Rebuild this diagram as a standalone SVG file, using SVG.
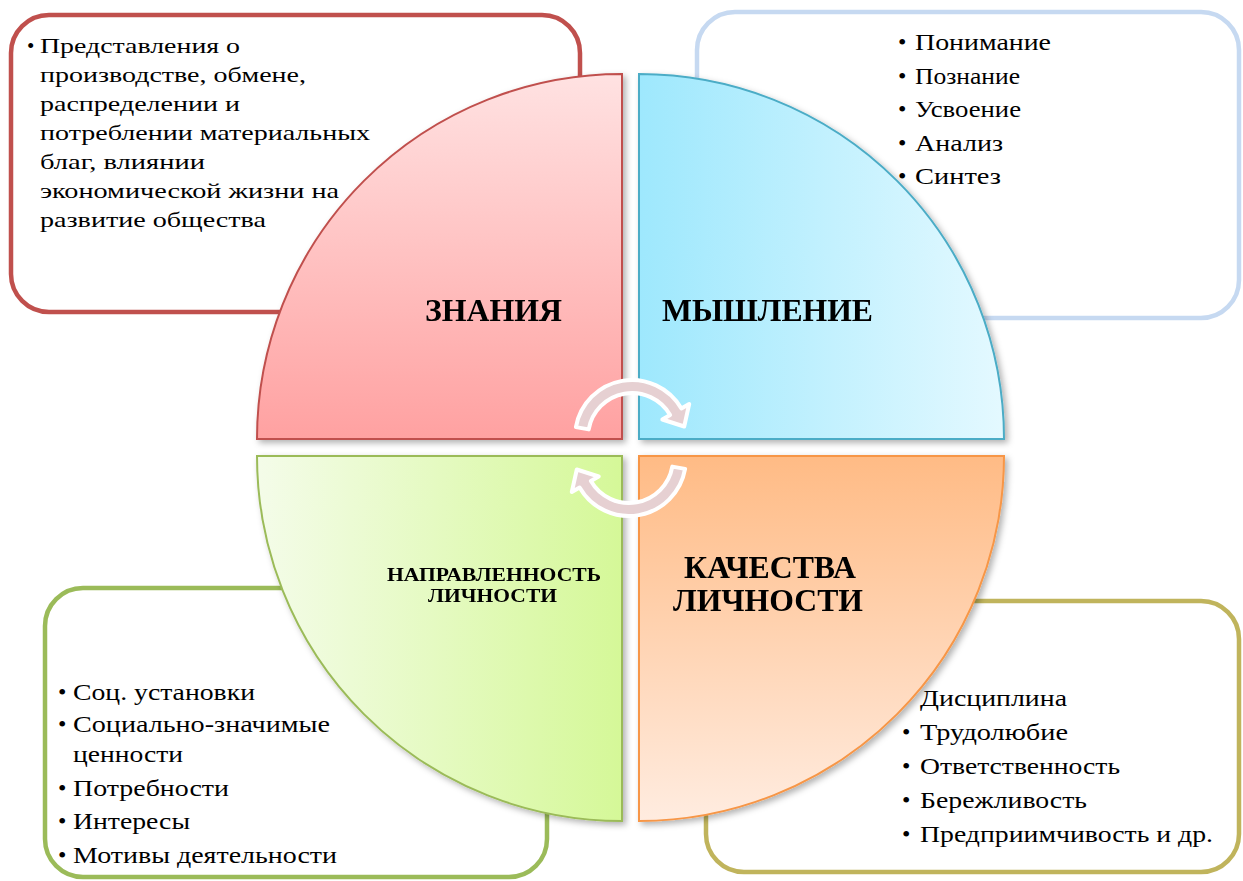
<svg xmlns="http://www.w3.org/2000/svg" width="1243" height="881" viewBox="0 0 1243 881" font-family="'Liberation Serif', 'DejaVu Serif', serif">
<style>
.box{fill:#fff;stroke-width:4.5}
text{font-family:'Liberation Serif','DejaVu Serif',serif;fill:#000}
.l{font-size:21px}
.r{font-size:23px}
.bu{font-size:24px}
.b{font-weight:bold}
.q{stroke-width:2}
.arr{fill:#e6d0d2;stroke:#fff;stroke-width:4;stroke-linejoin:round}
</style>
<defs>
<linearGradient id="gTL" x1="0" y1="0" x2="0" y2="1"><stop offset="0" stop-color="#ffe2e2"/><stop offset="1" stop-color="#ffa1a1"/></linearGradient>
<linearGradient id="gTR" x1="0" y1="0" x2="1" y2="0"><stop offset="0" stop-color="#9ee8fd"/><stop offset="1" stop-color="#e4f9ff"/></linearGradient>
<linearGradient id="gBL" x1="0" y1="0" x2="1" y2="0"><stop offset="0" stop-color="#f4fce9"/><stop offset="1" stop-color="#d5f898"/></linearGradient>
<linearGradient id="gBR" x1="0" y1="0" x2="0" y2="1"><stop offset="0" stop-color="#ffbb85"/><stop offset="1" stop-color="#ffece0"/></linearGradient>
<filter id="sh" x="-10%" y="-10%" width="120%" height="120%"><feDropShadow dx="3" dy="3" stdDeviation="3" flood-color="#000" flood-opacity="0.3"/></filter>
</defs>

<g id="box-tl">
<rect class="box" x="11" y="15" width="569" height="297" rx="38" stroke="#c0504d"/>
<text class="l" x="27" y="53">•</text>
<text class="l">
<tspan x="40" y="53" textLength="200" lengthAdjust="spacingAndGlyphs">Представления о</tspan>
<tspan x="40" y="82" textLength="266" lengthAdjust="spacingAndGlyphs">производстве, обмене,</tspan>
<tspan x="40" y="111" textLength="200" lengthAdjust="spacingAndGlyphs">распределении и</tspan>
<tspan x="40" y="140" textLength="330" lengthAdjust="spacingAndGlyphs">потреблении материальных</tspan>
<tspan x="40" y="169" textLength="165" lengthAdjust="spacingAndGlyphs">благ, влиянии</tspan>
<tspan x="40" y="198" textLength="299" lengthAdjust="spacingAndGlyphs">экономической жизни на</tspan>
<tspan x="40" y="227" textLength="226" lengthAdjust="spacingAndGlyphs">развитие общества</tspan>
</text>
</g>

<g id="box-tr">
<rect class="box" x="697" y="12" width="542" height="306" rx="38" stroke="#c6d9f1"/>
<text class="bu"><tspan x="898" y="50">•</tspan><tspan x="898" y="84">•</tspan><tspan x="898" y="117">•</tspan><tspan x="898" y="151">•</tspan><tspan x="898" y="184">•</tspan></text>
<text class="r">
<tspan x="915" y="50" textLength="136" lengthAdjust="spacingAndGlyphs">Понимание</tspan>
<tspan x="915" y="84" textLength="105" lengthAdjust="spacingAndGlyphs">Познание</tspan>
<tspan x="915" y="117" textLength="106" lengthAdjust="spacingAndGlyphs">Усвоение</tspan>
<tspan x="915" y="151" textLength="88" lengthAdjust="spacingAndGlyphs">Анализ</tspan>
<tspan x="915" y="184" textLength="86" lengthAdjust="spacingAndGlyphs">Синтез</tspan>
</text>
</g>

<g id="box-bl">
<rect class="box" x="45" y="588" width="502" height="289" rx="38" stroke="#9bbb59"/>
<text class="bu"><tspan x="58" y="700">•</tspan><tspan x="58" y="732">•</tspan><tspan x="58" y="796">•</tspan><tspan x="58" y="829">•</tspan><tspan x="58" y="863">•</tspan></text>
<text class="r">
<tspan x="73" y="700" textLength="182" lengthAdjust="spacingAndGlyphs">Соц. установки</tspan>
<tspan x="73" y="732" textLength="257" lengthAdjust="spacingAndGlyphs">Социально-значимые</tspan>
<tspan x="73" y="762" textLength="110" lengthAdjust="spacingAndGlyphs">ценности</tspan>
<tspan x="73" y="796" textLength="156" lengthAdjust="spacingAndGlyphs">Потребности</tspan>
<tspan x="73" y="829" textLength="117" lengthAdjust="spacingAndGlyphs">Интересы</tspan>
<tspan x="73" y="863" textLength="264" lengthAdjust="spacingAndGlyphs">Мотивы деятельности</tspan>
</text>
</g>

<g id="box-br">
<rect class="box" x="706" y="601" width="533" height="271" rx="38" stroke="#c0b45c" stroke-width="5"/>
<text class="bu"><tspan x="902" y="706">•</tspan><tspan x="902" y="740">•</tspan><tspan x="902" y="774">•</tspan><tspan x="902" y="808">•</tspan><tspan x="902" y="842">•</tspan></text>
<text class="r">
<tspan x="920" y="706" textLength="147" lengthAdjust="spacingAndGlyphs">Дисциплина</tspan>
<tspan x="920" y="740" textLength="148" lengthAdjust="spacingAndGlyphs">Трудолюбие</tspan>
<tspan x="920" y="774" textLength="200" lengthAdjust="spacingAndGlyphs">Ответственность</tspan>
<tspan x="920" y="808" textLength="167" lengthAdjust="spacingAndGlyphs">Бережливость</tspan>
<tspan x="920" y="842" textLength="293" lengthAdjust="spacingAndGlyphs">Предприимчивость и др.</tspan>
</text>
</g>

<g id="q-tl" filter="url(#sh)">
<path class="q" d="M622 439 L257 439 A365 365 0 0 1 622 74 Z" fill="url(#gTL)" stroke="#c0504d"/>
<text class="b" x="425" y="321" font-size="31" textLength="137" lengthAdjust="spacingAndGlyphs">ЗНАНИЯ</text>
</g>
<g id="q-tr" filter="url(#sh)">
<path class="q" d="M639 439 L639 74 A365 365 0 0 1 1004 439 Z" fill="url(#gTR)" stroke="#4bacc6"/>
<text class="b" x="662" y="321" font-size="31" textLength="211" lengthAdjust="spacingAndGlyphs">МЫШЛЕНИЕ</text>
</g>
<g id="q-bl" filter="url(#sh)">
<path class="q" d="M622 456 L622 821 A365 365 0 0 1 257 456 Z" fill="url(#gBL)" stroke="#9bbb59"/>
<text class="b" font-size="19"><tspan x="387" y="581" textLength="214" lengthAdjust="spacingAndGlyphs">НАПРАВЛЕННОСТЬ</tspan><tspan x="428" y="602" textLength="129" lengthAdjust="spacingAndGlyphs">ЛИЧНОСТИ</tspan></text>
</g>
<g id="q-br" filter="url(#sh)">
<path class="q" d="M639 456 L1004 456 A365 365 0 0 1 639 821 Z" fill="url(#gBR)" stroke="#f79646"/>
<text class="b" font-size="31"><tspan x="684" y="578" textLength="172" lengthAdjust="spacingAndGlyphs">КАЧЕСТВА</tspan><tspan x="673" y="611" textLength="190" lengthAdjust="spacingAndGlyphs">ЛИЧНОСТИ</tspan></text>
</g>

<g id="connectors">
<path class="arr" d="M575.9 427.1 A57 57 0 0 1 681.4 408.5 L689.2 404 L684.2 426.5 L662.3 419.5 L670.1 415 A44 44 0 0 0 588.7 429.4 Z"/>
<path class="arr" transform="rotate(180 630.5 448)" d="M575.9 427.1 A57 57 0 0 1 681.4 408.5 L689.2 404 L684.2 426.5 L662.3 419.5 L670.1 415 A44 44 0 0 0 588.7 429.4 Z"/>
</g>
</svg>
